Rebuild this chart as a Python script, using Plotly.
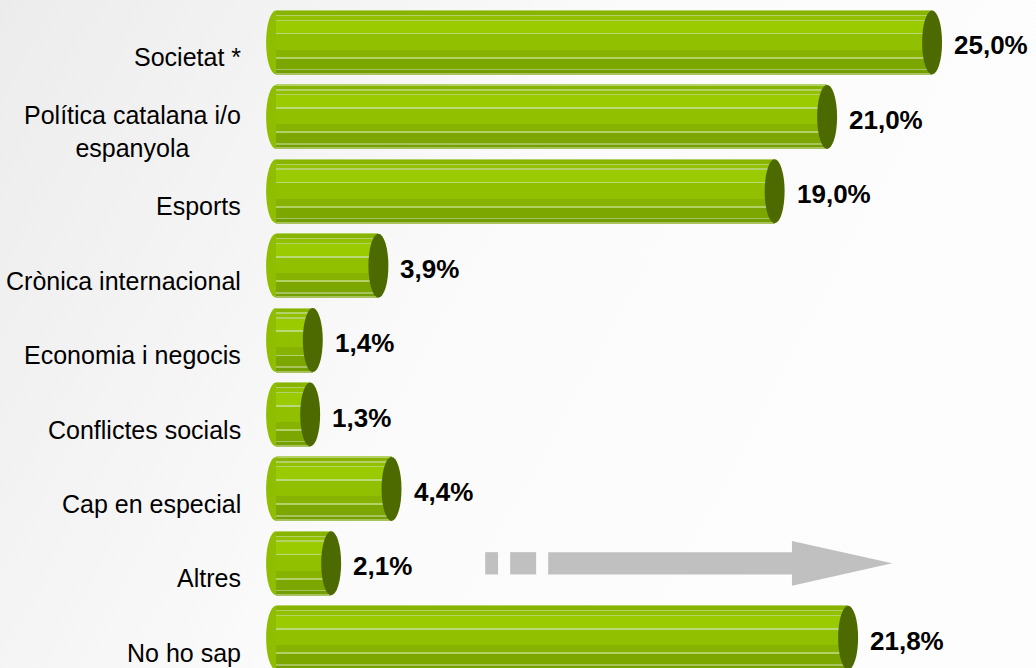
import base64

import plotly.graph_objects as go

categories = [
    "Societat *",
    "Política catalana i/o<br>espanyola",
    "Esports",
    "Crònica internacional",
    "Economia i negocis",
    "Conflictes socials",
    "Cap en especial",
    "Altres",
    "No ho sap",
]
values = [25.0, 21.0, 19.0, 3.9, 1.4, 1.3, 4.4, 2.1, 21.8]
value_labels = ["25,0%", "21,0%", "19,0%", "3,9%", "1,4%", "1,3%", "4,4%", "2,1%", "21,8%"]

_FONT = "Liberation Sans, Arial, sans-serif"
X_RANGE = [-10.52, 28.96]
Y_RANGE = [8.407, -0.571]
BAR_H = 0.86          # bar thickness in category units
CAP_W = 0.38          # half-width of the end ellipse in x units
CAP_COLOR = "#4d6a00"
LIGHT = "#b4d165"

# vertical shading bands of the cylinder, top to bottom (fraction of bar height)
BANDS = [
    (0.000, 0.012, LIGHT),
    (0.012, 0.075, "#88b400"),
    (0.075, 0.090, LIGHT),
    (0.090, 0.150, "#93c100"),
    (0.150, 0.165, LIGHT),
    (0.165, 0.355, "#9acb00"),
    (0.355, 0.375, "#bcd978"),
    (0.375, 0.615, "#91c000"),
    (0.615, 0.735, "#87b200"),
    (0.735, 0.755, LIGHT),
    (0.755, 0.920, "#7ca700"),
    (0.920, 0.935, "#a8c35e"),
    (0.935, 0.985, "#749f00"),
    (0.985, 1.000, "#a8c35e"),
]

# soft grey-to-white page background, as an inline svg gradient
_BG_SVG = (
    '<svg xmlns="http://www.w3.org/2000/svg" width="1036" height="668">'
    '<defs><linearGradient id="g" x1="0" y1="0" x2="1" y2="0.35">'
    '<stop offset="0" stop-color="#ececec"/>'
    '<stop offset="0.55" stop-color="#fbfbfb"/>'
    '<stop offset="1" stop-color="#fdfdfd"/>'
    '</linearGradient></defs>'
    '<rect width="1036" height="668" fill="url(#g)"/></svg>'
)
BG_URI = "data:image/svg+xml;base64," + base64.b64encode(_BG_SVG.encode()).decode()

pos = list(range(len(categories)))

fig = go.Figure()
for f0, f1, color in BANDS:
    fig.add_trace(go.Bar(
        x=values, y=pos, orientation="h",
        width=BAR_H * (f1 - f0), offset=-BAR_H / 2 + BAR_H * f0,
        marker=dict(color=color, line_width=0),
        hoverinfo="skip", showlegend=False,
    ))

shapes = []
for p, v in zip(pos, values):
    # rounded left end of the cylinder
    shapes.append(dict(type="circle", xref="x", yref="y", layer="below",
                       x0=-CAP_W, x1=CAP_W, y0=p - BAR_H / 2, y1=p + BAR_H / 2,
                       fillcolor="#8fbd00", line_width=0))
    # dark end face
    shapes.append(dict(type="circle", xref="x", yref="y",
                       x0=v - CAP_W, x1=v + CAP_W, y0=p - BAR_H / 2, y1=p + BAR_H / 2,
                       fillcolor=CAP_COLOR, line_width=0))

# grey dashed arrow in the "Altres" row
ya = pos[7]
grey = "#c0c0c0"
for x0, x1 in [(7.97, 8.46), (8.92, 9.91)]:
    shapes.append(dict(type="rect", xref="x", yref="y", x0=x0, x1=x1,
                       y0=ya - 0.15, y1=ya + 0.15, fillcolor=grey, line_width=0))
shapes.append(dict(
    type="path", xref="x", yref="y", fillcolor=grey, line_width=0,
    path=(f"M 10.37 {ya - 0.15} L 19.66 {ya - 0.15} L 19.66 {ya - 0.30} "
          f"L 23.48 {ya} L 19.66 {ya + 0.30} L 19.66 {ya + 0.15} "
          f"L 10.37 {ya + 0.15} Z"),
))

annotations = []
for p, cat in zip(pos, categories):
    annotations.append(dict(
        x=-1.26, y=p, xref="x", yref="y", text=cat, showarrow=False,
        xanchor="right", yanchor="middle", align="center", yshift=-15,
        font=dict(family=_FONT, size=25, color="#000000"),
    ))
for p, v, lab in zip(pos, values, value_labels):
    annotations.append(dict(
        x=v, y=p, xref="x", yref="y", text=f"<b>{lab}</b>", showarrow=False,
        xanchor="left", yanchor="middle", xshift=20, yshift=-3,
        font=dict(family=_FONT, size=26, color="#000000"),
    ))

fig.update_layout(
    width=1036, height=668,
    margin=dict(l=0, r=0, t=0, b=0),
    barmode="overlay", bargap=0,
    paper_bgcolor="#f4f4f4", plot_bgcolor="rgba(0,0,0,0)",
    xaxis=dict(range=X_RANGE, visible=False, fixedrange=True),
    yaxis=dict(range=Y_RANGE, visible=False, fixedrange=True),
    images=[dict(source=BG_URI, xref="paper", yref="paper", x=0, y=1,
                 sizex=1, sizey=1, xanchor="left", yanchor="top",
                 sizing="stretch", layer="below")],
    shapes=shapes, annotations=annotations,
    showlegend=False,
)

fig.write_html("out.html", config={"displayModeBar": False},
               post_script="document.body.style.margin='0';")
